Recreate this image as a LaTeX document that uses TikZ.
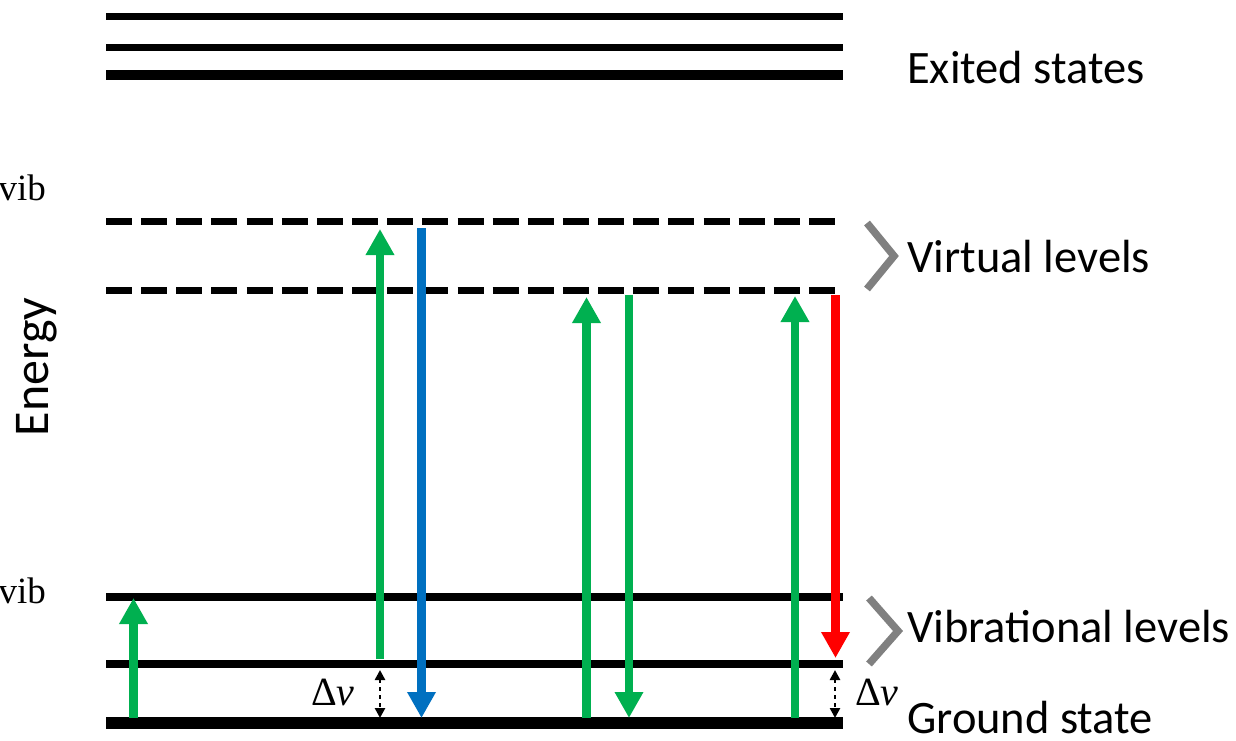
\documentclass[tikz,border=0pt]{standalone}
\usepackage{fontspec}
\setmainfont{Carlito}
\newfontfamily\serifm{Liberation Serif}
\usetikzlibrary{arrows.meta}
\definecolor{ggreen}{HTML}{00B050}
\definecolor{gblue}{HTML}{0070C0}
\definecolor{gred}{HTML}{FF0000}
\definecolor{chev}{HTML}{808080}
\begin{document}
\begin{tikzpicture}[x=1pt,y=-1pt,
  level/.style={draw=black, line width=#1},
  virt/.style={draw=black, line width=7pt, dash pattern=on 26pt off 9.15pt},
  bigarrow/.style={draw=#1, line width=8.5pt, -{Triangle[width=27pt,length=26pt]}},
  dnu/.style={draw=black, line width=2.6pt, dash pattern=on 4pt off 4pt,
    {Triangle[width=10pt,length=10pt]}-{Triangle[width=10pt,length=10pt]}},
  chevron/.style={draw=chev, line width=7.5pt, line join=miter},
  lab/.style={inner sep=0pt, anchor=base west, font=\fontsize{46.5}{54}\selectfont},
  dlab/.style={inner sep=0pt, anchor=base, font=\serifm\fontsize{40}{48}\selectfont},
  vlab/.style={inner sep=0pt, anchor=base east, font=\serifm\fontsize{37}{44}\selectfont}]
\useasboundingbox[fill=white] (0,0) rectangle (1236,741);
% excited states
\draw[level=7pt] (106,17) -- (843,17);
\draw[level=7pt] (106,48) -- (843,48);
\draw[level=10pt] (106,75.5) -- (843,75.5);
% virtual levels
\draw[virt] (106,221) -- (838,221);
\draw[virt] (106,290) -- (838,290);
% vibrational levels
\draw[level=7.5pt] (106,597) -- (843,597);
\draw[level=7.5pt] (106,664) -- (843,664);
\draw[level=12pt] (106,722.5) -- (843,722.5);
% coordinates
\coordinate (a1s) at (133.5,718);
\coordinate (a1e) at (133.5,598);
\coordinate (a2s) at (380,659);
\coordinate (a2e) at (380,229);
\coordinate (b1s) at (421.5,228);
\coordinate (b1e) at (421.5,718);
\coordinate (a3s) at (586.5,718);
\coordinate (a3e) at (586.5,297);
\coordinate (a4s) at (629,295);
\coordinate (a4e) at (629,718);
\coordinate (a5s) at (795,718);
\coordinate (a5e) at (795,296);
\coordinate (r1s) at (835.5,295);
\coordinate (r1e) at (835.5,658);
\coordinate (d1t) at (380,670);
\coordinate (d1b) at (380,718);
\coordinate (d2t) at (835,670);
\coordinate (d2b) at (835,718);
% arrows
\draw[bigarrow=ggreen] (a1s) -- (a1e);
\draw[bigarrow=ggreen] (a2s) -- (a2e);
\draw[bigarrow=gblue] (b1s) -- (b1e);
\draw[bigarrow=ggreen] (a3s) -- (a3e);
\draw[bigarrow=ggreen] (a4s) -- (a4e);
\draw[bigarrow=ggreen] (a5s) -- (a5e);
\draw[bigarrow=gred] (r1s) -- (r1e);
\draw[dnu] (d1t) -- (d1b);
\draw[dnu] (d2t) -- (d2b);
% chevrons
\draw[chevron] (867,223) -- (894,256) -- (867,289);
\draw[chevron] (869,598) -- (898,631) -- (869,664);
% labels
\node[lab] (exc) at (907,84) {Exited states};
\node[lab] (virl) at (907,272) {Virtual levels};
\node[lab] (vibl) at (907,642) {Vibrational levels};
\node[lab] (gnd) at (907,733) {Ground state};
\node[dlab] (dn1) at (333,705) {Δ{\itshape ν}};
\node[dlab] (dn2) at (877,705) {Δ{\itshape ν}};
\node[vlab] (v1) at (46,200) {vib};
\node[vlab] (v2) at (46,603) {vib};
\node[inner sep=0pt, rotate=90, anchor=base, font=\fontsize{50}{58}\selectfont] (en) at (48,367) {Energy};
\end{tikzpicture}
\end{document}
